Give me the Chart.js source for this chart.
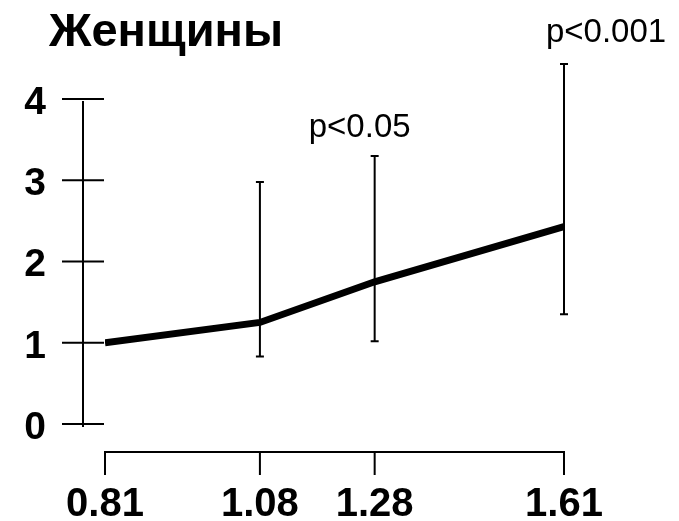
<!DOCTYPE html>
<html>
<head>
<meta charset="utf-8">
<script src="https://cdn.jsdelivr.net/npm/chart.js@4"></script>
<style>
  html, body { margin: 0; padding: 0; background: #fff; }
  #wrap { width: 679px; height: 521px; }
</style>
</head>
<body>
<div id="wrap"><canvas id="myChart" width="679" height="521"></canvas></div>
<script>
const title = "Женщины";
const xValues = [0.81, 1.08, 1.28, 1.61];
const xLabels = ["0.81", "1.08", "1.28", "1.61"];
const yValues = [1.0, 1.25, 1.75, 2.43];
const errLow = [null, 0.83, 1.02, 1.35];
const errHigh = [null, 2.98, 3.3, 4.43];
const pLabels = ["", "", "p<0.05", "p<0.001"];
const yTicks = [0, 1, 2, 3, 4];

const black = "#000";
const sans = "'Liberation Sans', Arial, sans-serif";

const drawExtras = {
  id: "extras",
  beforeDatasetsDraw(chart) {
    const ctx = chart.ctx;
    const x = chart.scales.x, y = chart.scales.y;
    ctx.save();
    ctx.strokeStyle = black;
    ctx.lineWidth = 2;
    // error bars
    xValues.forEach((v, i) => {
      if (errLow[i] === null) return;
      const px = x.getPixelForValue(v);
      const top = y.getPixelForValue(errHigh[i]);
      const bot = y.getPixelForValue(errLow[i]);
      ctx.beginPath();
      ctx.moveTo(px, top); ctx.lineTo(px, bot);
      ctx.moveTo(px - 4, top); ctx.lineTo(px + 4, top);
      ctx.moveTo(px - 4, bot); ctx.lineTo(px + 4, bot);
      ctx.stroke();
    });
    ctx.restore();
  },
  afterDraw(chart) {
    const ctx = chart.ctx;
    const x = chart.scales.x, y = chart.scales.y;
    const area = chart.chartArea;
    ctx.save();
    ctx.strokeStyle = black;
    ctx.fillStyle = black;
    ctx.lineWidth = 2;

    // y axis, set off to the left of the plot
    const ax = area.left - 22;
    ctx.beginPath();
    ctx.moveTo(ax, y.getPixelForValue(4) + 2);
    ctx.lineTo(ax, y.getPixelForValue(0) + 3);
    yTicks.forEach(t => {
      const py = y.getPixelForValue(t);
      ctx.moveTo(ax - 21, py); ctx.lineTo(ax + 21, py);
    });
    ctx.stroke();

    ctx.font = "bold 39px " + sans;
    ctx.textAlign = "right";
    ctx.textBaseline = "middle";
    yTicks.forEach(t => {
      ctx.fillText(String(t), 46, y.getPixelForValue(t) + 4);
    });

    // x axis, set off below the plot
    const ay = area.bottom + 28;
    ctx.beginPath();
    ctx.moveTo(x.getPixelForValue(xValues[0]), ay);
    ctx.lineTo(x.getPixelForValue(xValues[xValues.length - 1]), ay);
    xValues.forEach(v => {
      const px = x.getPixelForValue(v);
      ctx.moveTo(px, ay - 1); ctx.lineTo(px, ay + 23);
    });
    ctx.stroke();

    ctx.font = "bold 40px " + sans;
    ctx.textAlign = "center";
    ctx.textBaseline = "alphabetic";
    xValues.forEach((v, i) => {
      ctx.fillText(xLabels[i], x.getPixelForValue(v), ay + 64);
    });

    // p-values above the error bars
    ctx.font = "33px " + sans;
    pLabels.forEach((s, i) => {
      if (!s) return;
      const px = x.getPixelForValue(xValues[i]);
      const top = y.getPixelForValue(errHigh[i]);
      if (i === xValues.length - 1) ctx.fillText(s, px + 42, top - 22);
      else ctx.fillText(s, px - 15, top - 19);
    });

    // title
    ctx.font = "bold 47px " + sans;
    ctx.textAlign = "left";
    ctx.fillText(title, 49, 46);
    ctx.restore();
  }
};

const ctx = document.getElementById("myChart").getContext("2d");
const chart = new Chart(ctx, {
  type: "line",
  data: {
    datasets: [{
      data: xValues.map((v, i) => ({x: v, y: yValues[i]})),
      borderColor: black,
      borderWidth: 7,
      pointRadius: 0,
      tension: 0,
      borderCapStyle: "butt"
    }]
  },
  options: {
    responsive: false,
    animation: false,
    layout: { padding: { left: 105, right: 115, top: 99, bottom: 97 } },
    plugins: { legend: { display: false }, tooltip: { enabled: false } },
    scales: {
      x: { type: "linear", min: 0.81, max: 1.61, display: false },
      y: { min: 0, max: 4, display: false }
    }
  },
  plugins: [drawExtras]
});
</script>
</body>
</html>
